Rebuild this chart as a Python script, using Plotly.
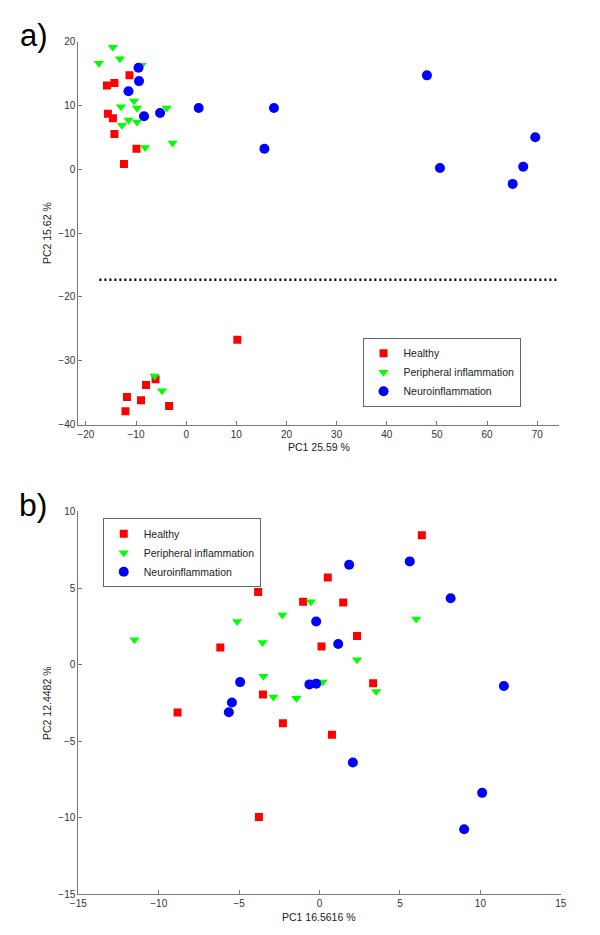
import plotly.graph_objects as go

# ---------------- Panel a data ----------------
a_healthy_x = [-11.3, -15.8, -14.3, -15.6, -14.6, -14.3, -9.9, -12.4, 10.2, -6.1, -8.0, -11.8, -9.0, -3.4, -12.1]
a_healthy_y = [14.7, 13.1, 13.5, 8.7, 8.0, 5.5, 3.2, 0.8, -26.7, -32.9, -33.8, -35.7, -36.2, -37.1, -37.9]

a_periph_x = [-14.6, -17.4, -13.2, -8.9, -10.4, -13.0, -9.8, -3.9, -11.5, -9.8, -12.8, -8.2, -2.7, -6.3, -4.8]
a_periph_y = [19.1, 16.6, 17.3, 16.3, 10.7, 9.8, 9.6, 9.6, 7.7, 7.4, 6.9, 3.4, 4.1, -32.4, -34.7]

a_neuro_x = [-9.5, -9.4, -11.5, -8.4, -5.2, 2.5, 17.5, 15.6, 48.0, 50.6, 69.6, 67.2, 65.1]
a_neuro_y = [15.9, 13.8, 12.2, 8.3, 8.8, 9.6, 9.6, 3.2, 14.7, 0.2, 5.0, 0.4, -2.3]

a_divider_y = -17.3
a_divider_x = [-17.3, 74.2]

a_xticks = [-20, -10, 0, 10, 20, 30, 40, 50, 60, 70]
a_yticks = [-40, -30, -20, -10, 0, 10, 20]

# ---------------- Panel b data ----------------
b_healthy_x = [6.36, 0.51, -3.82, -1.02, 1.47, 2.33, -6.17, 0.12, 3.33, -3.52, -8.83, -2.28, 0.77, -3.77]
b_healthy_y = [8.45, 5.69, 4.74, 4.10, 4.06, 1.87, 1.12, 1.18, -1.22, -1.95, -3.13, -3.82, -4.57, -9.94]

b_periph_x = [-11.51, -5.12, -2.31, -0.54, -3.54, 6.01, 2.33, -3.49, -2.87, -1.44, 0.19, 3.52]
b_periph_y = [1.63, 2.81, 3.24, 4.10, 1.44, 2.98, 0.32, -0.75, -2.12, -2.19, -1.14, -1.76]

b_neuro_x = [1.84, 5.61, 8.15, -0.21, 1.16, -4.94, -0.63, -0.21, -5.45, -5.64, 11.46, 2.07, 10.11, 8.99]
b_neuro_y = [6.52, 6.74, 4.33, 2.81, 1.35, -1.14, -1.29, -1.24, -2.47, -3.11, -1.39, -6.39, -8.37, -10.75]

b_xticks = [-15, -10, -5, 0, 5, 10, 15]
b_yticks = [-15, -10, -5, 0, 5, 10]

group_names = ["Healthy", "Peripheral inflammation", "Neuroinflammation"]
group_colors = ["#FF0000", "#00FF00", "#0000FF"]
group_symbols = ["square", "triangle-down", "circle"]
group_sizes = [8, 9, 10]

FONT = "Liberation Sans, Arial, sans-serif"

fig = go.Figure()

panel_a = [(a_healthy_x, a_healthy_y), (a_periph_x, a_periph_y), (a_neuro_x, a_neuro_y)]
panel_b = [(b_healthy_x, b_healthy_y), (b_periph_x, b_periph_y), (b_neuro_x, b_neuro_y)]

for i, (xs, ys) in enumerate(panel_a):
    fig.add_trace(go.Scatter(
        x=xs, y=ys, mode="markers", name=group_names[i],
        marker=dict(symbol=group_symbols[i], color=group_colors[i], size=group_sizes[i], line=dict(width=0)),
        xaxis="x", yaxis="y", legend="legend"))

for i, (xs, ys) in enumerate(panel_b):
    fig.add_trace(go.Scatter(
        x=xs, y=ys, mode="markers", name=group_names[i],
        marker=dict(symbol=group_symbols[i], color=group_colors[i], size=group_sizes[i], line=dict(width=0)),
        xaxis="x2", yaxis="y2", legend="legend2"))

axis_common = dict(
    showline=True, linecolor="#7a7a7a", linewidth=1,
    ticks="inside", ticklen=4, tickcolor="#7a7a7a", tickwidth=1,
    showgrid=False, zeroline=False, mirror=False,
    tickfont=dict(family=FONT, size=10, color="#333333"),
)

W, H = 600, 935

legend_common = dict(
    xanchor="left", yanchor="top", xref="paper", yref="paper",
    bgcolor="white", bordercolor="#666666", borderwidth=1,
    font=dict(family=FONT, size=10.5, color="#222222"),
    tracegroupgap=0, itemsizing="trace",
)

fig.update_layout(
    width=W, height=H,
    margin=dict(l=0, r=0, t=0, b=0),
    paper_bgcolor="white", plot_bgcolor="white",
    font=dict(family=FONT, color="#222222"),
    xaxis=dict(domain=[72 / W, 564 / W], range=[-21.5, 74.3], tickvals=a_xticks, anchor="y", **axis_common),
    yaxis=dict(domain=[1 - 424 / H, 1 - 36 / H], range=[-40, 20], tickvals=a_yticks, anchor="x", **axis_common),
    xaxis2=dict(domain=[72 / W, 566 / W], range=[-15, 15], tickvals=b_xticks, anchor="y2", **axis_common),
    yaxis2=dict(domain=[1 - 900 / H, 1 - 512 / H], range=[-15, 10], tickvals=b_yticks, anchor="x2", **axis_common),
    legend=dict(x=363 / W, y=1 - 336 / H, **legend_common),
    legend2=dict(x=97 / W, y=1 - 519 / H, **legend_common),
    shapes=[dict(type="line", xref="x", yref="y",
                 x0=a_divider_x[0], x1=a_divider_x[1], y0=a_divider_y, y1=a_divider_y,
                 line=dict(color="black", width=2.5, dash="2px,3px"))],
    annotations=[
        dict(text="a)", x=10 / W, y=1 - 30 / H, xref="paper", yref="paper", xanchor="left", yanchor="middle",
             showarrow=False, font=dict(family=FONT, size=31, color="black")),
        dict(text="b)", x=9 / W, y=1 - 505 / H, xref="paper", yref="paper", xanchor="left", yanchor="middle",
             showarrow=False, font=dict(family=FONT, size=32, color="black")),
        dict(text="PC1 25.59 %", x=318 / W, y=1 - 447 / H, xref="paper", yref="paper", xanchor="center", yanchor="middle",
             showarrow=False, font=dict(family=FONT, size=10.5, color="#222222")),
        dict(text="PC2 15.62 %", x=40 / W, y=1 - 230 / H, xref="paper", yref="paper", xanchor="center", yanchor="middle",
             textangle=-90, showarrow=False, font=dict(family=FONT, size=10.5, color="#222222")),
        dict(text="PC1 16.5616 %", x=318 / W, y=1 - 923 / H, xref="paper", yref="paper", xanchor="center", yanchor="middle",
             showarrow=False, font=dict(family=FONT, size=10.5, color="#222222")),
        dict(text="PC2 12.4482 %", x=40 / W, y=1 - 706 / H, xref="paper", yref="paper", xanchor="center", yanchor="middle",
             textangle=-90, showarrow=False, font=dict(family=FONT, size=10.5, color="#222222")),
    ],
)

fig.write_html(
    "out.html",
    config={"displayModeBar": False},
    post_script="document.body.style.margin='0';document.body.style.overflow='hidden';",
)
